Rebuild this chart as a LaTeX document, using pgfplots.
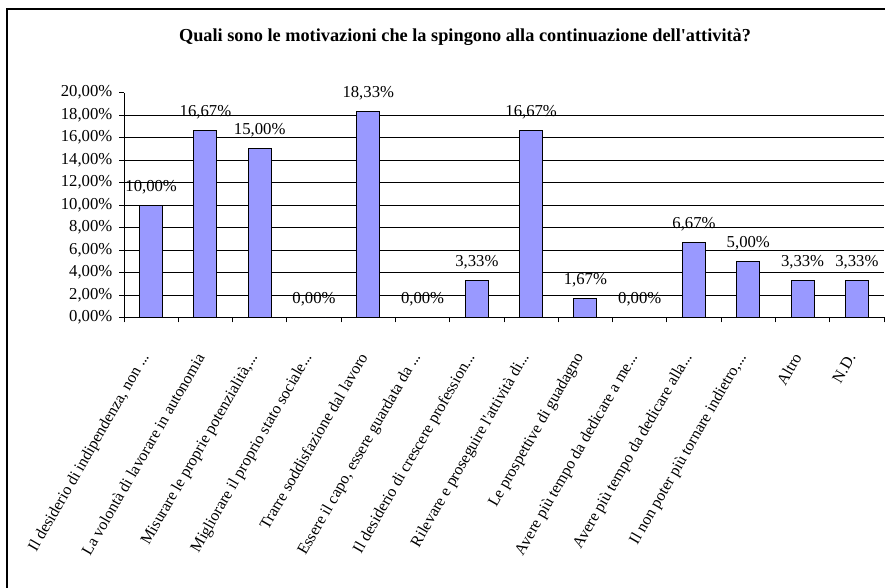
\documentclass[border=0pt]{standalone}
\usepackage{fontspec}
\setmainfont{Liberation Serif}
\usepackage{pgfplots}
\pgfplotsset{compat=1.18}
\definecolor{barc}{HTML}{9999FF}
\newcommand\dd{...}
\newcommand\ap{\textquotesingle}
\begin{document}
\fontsize{16.7bp}{20bp}\selectfont
\begin{tikzpicture}[x=1bp,y=1bp,font=\fontsize{16.7bp}{20bp}\selectfont]
\useasboundingbox (0,0) rectangle (885,588);
\draw[line width=1.2bp] (7,-10) -- (7,579) -- (900,579);
\node[font=\fontsize{18.3bp}{22bp}\selectfont\bfseries] at (465,551) {Quali sono le motivazioni che la spingono alla continuazione dell\ap attività?};
\begin{axis}[
  at={(124bp,270.5bp)}, anchor=south west,
  scale only axis, width=760bp, height=224.8bp,
  xmin=-0.5, xmax=13.5, ymin=0, ymax=20,
  axis x line*=bottom, axis y line*=left,
  axis line style={black, line width=1bp},
  tick align=outside,
  major tick length=5bp,
  every tick/.style={black, line width=1bp},
  /pgf/number format/assume math mode=true,
  ytick={0,2,...,20},
  yticklabel={\pgfmathprintnumber[fixed,fixed zerofill,precision=2,use comma]{\tick}\%},
  yticklabel style={inner sep=0pt, anchor=east, xshift=-6.5bp},
  extra y ticks={2,4,...,18},
  extra y tick labels={},
  extra y tick style={grid=major},
  major grid style={black, line width=0.8bp},
  xtick={-0.5,0.5,...,13.5},
  x tick label as interval,
  xticklabels={{Il desiderio di indipendenza, non \dd},
    {La volontà di lavorare in autonomia},
    {Misurare le proprie potenzialità,\dd},
    {Migliorare il proprio stato sociale\dd},
    {Trarre soddisfazione dal lavoro},
    {Essere il capo, essere guardata da \dd},
    {Il desiderio di crescere profession\dd},
    {Rilevare e proseguire l\ap attività di\dd},
    {Le prospettive di guadagno},
    {Avere più tempo da dedicare a me\dd},
    {Avere più tempo da dedicare alla\dd},
    {Il non poter più tornare indietro,\dd},
    {Altro},
    {N.D.}},
  xticklabel style={font=\fontsize{16bp}{19bp}\selectfont, inner sep=0pt, xshift=-5bp, yshift=-32bp, rotate=60, anchor=east},
  nodes near coords={\pgfmathprintnumber[fixed,fixed zerofill,precision=2,use comma]{\pgfplotspointmeta}\%},
  every node near coord/.append style={anchor=base, yshift=14bp, inner sep=0pt, black},
]
\addplot[ybar, bar width=23bp, fill=barc, draw=black, line width=1.1bp] coordinates {
 (0,10) (1,16.67) (2,15) (3,0) (4,18.33) (5,0) (6,3.33) (7,16.67)
 (8,1.67) (9,0) (10,6.67) (11,5) (12,3.33) (13,3.33)
};
\end{axis}
\end{tikzpicture}
\end{document}
